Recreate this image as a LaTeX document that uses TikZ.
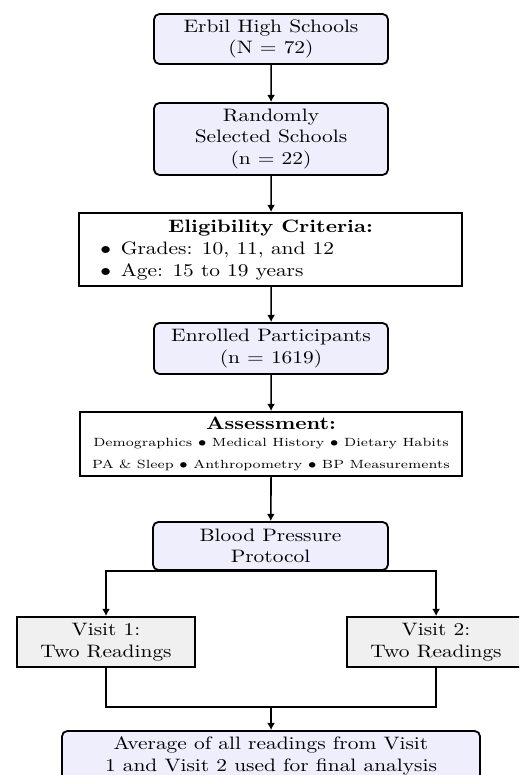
\documentclass[tikz,border=0pt]{standalone}
\usetikzlibrary{arrows.meta}
\definecolor{boxblue}{RGB}{238,238,252}
\definecolor{boxgray}{RGB}{240,240,240}
\begin{document}
\begin{tikzpicture}[x=0.4669pt,y=-0.5556pt,xscale=1.19,transform shape,
  rbox/.style={draw, line width=1pt, rounded corners=3pt, fill=boxblue, align=center, inner sep=0pt},
  wbox/.style={draw, line width=1pt, fill=white, inner sep=0pt},
  gbox/.style={draw, line width=1pt, fill=boxgray, align=center, inner sep=0pt},
  txt/.style={inner sep=0pt},
  small/.style={inner sep=0pt, font=\fontsize{6.6pt}{8pt}\selectfont},
  conn/.style={line width=0.9pt, -{Latex[length=4pt,width=4.4pt]}},
  line/.style={line width=0.9pt}]
\clip (0,0) rectangle (519,775);
\fill[white] (0,0) rectangle (519,775);

\node[rbox, minimum width=109.25pt, minimum height=27.78pt] (n1) at (271,39) {Erbil High Schools\\(N = 72)};
\node[rbox, minimum width=109.25pt, minimum height=40pt] (n2) at (271,139) {Randomly\\Selected Schools\\(n = 22)};
\node[wbox, minimum width=178.8pt, minimum height=40.56pt] (elig) at (270.5,249.5) {};
\node[txt, anchor=base] (eligT) at (270.5,232.7) {\textbf{Eligibility Criteria:}};
\node[txt, anchor=base west] (eligA) at (100,255) {\makebox[9.5pt][l]{$\bullet$}Grades: 10, 11, and 12};
\node[txt, anchor=base west] (eligB) at (100,276.7) {\makebox[9.5pt][l]{$\bullet$}Age: 15 to 19 years};
\node[rbox, minimum width=109.25pt, minimum height=28.3pt] (n4) at (271,348.5) {Enrolled Participants\\(n = 1619)};
\node[wbox, minimum width=178.4pt, minimum height=35.6pt] (assess) at (271,444) {};
\node[txt, anchor=base] (assT) at (271,429.3) {\textbf{Assessment:}};
\node[small, anchor=base] (assA) at (271,446.5) {Demographics $\bullet$ Medical History $\bullet$ Dietary Habits};
\node[small, anchor=base] (assB) at (271,468.3) {PA \& Sleep $\bullet$ Anthropometry $\bullet$ BP Measurements};
\node[rbox, minimum width=109.7pt, minimum height=26.7pt] (bp) at (270.5,546) {Blood Pressure\\Protocol};
\node[gbox, minimum width=83.1pt, minimum height=27.8pt] (v1) at (106,642) {Visit 1:\\Two Readings};
\node[gbox, minimum width=83.1pt, minimum height=27.8pt] (v2) at (436,642) {Visit 2:\\Two Readings};
\node[rbox, minimum width=195.2pt, minimum height=27.8pt] (fin) at (271,756) {Average of all readings from Visit\\1 and Visit 2 used for final analysis};
\coordinate (merge) at (271,707);

\draw[conn] (n1) -- (n2);
\draw[conn] (n2) -- (n2 |- elig.north);
\draw[conn] (n2 |- elig.south) -- (n4);
\draw[conn] (n4) -- (n4 |- assess.north);
\draw[conn] (n4 |- assess.south) -- (bp);
\draw[conn] (bp.south) -| (v1.north);
\draw[conn] (bp.south) -| (v2.north);
\draw[line] (v1.south) |- (merge) -| (v2.south);
\draw[conn] (merge) -- (fin.north);
\end{tikzpicture}
\end{document}
